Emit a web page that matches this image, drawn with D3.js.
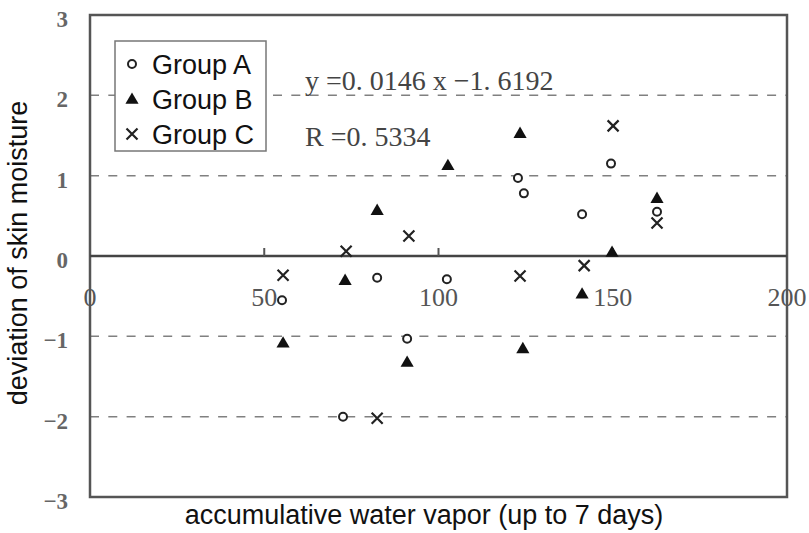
<!DOCTYPE html>
<html lang="en">
<head>
    <meta charset="UTF-8">
    <title>skin moisture</title>
    <script src="https://cdn.jsdelivr.net/npm/d3@7"></script>
    <style>
        *{
            padding: 0;
            margin: 0;
        }
        body{
            background: #fff;
        }
        svg{
            display: block;
        }
        .sans{
            font-family: "Liberation Sans", Arial, sans-serif;
            fill: #111;
        }
        .serif{
            font-family: "Liberation Serif", "DejaVu Serif", serif;
            fill: #555;
        }
    </style>
</head>
<body>
<script>
    // data
    let groupAx = [55.1, 72.6, 82.4, 91.0, 102.4, 122.8, 124.5, 141.2, 149.5, 162.7];
    let groupAy = [-0.55, -2.0, -0.27, -1.03, -0.29, 0.97, 0.78, 0.52, 1.15, 0.55];
    let groupBx = [55.4, 73.2, 82.4, 91.0, 102.7, 123.4, 124.2, 141.2, 149.8, 162.7];
    let groupBy = [-1.08, -0.30, 0.57, -1.32, 1.13, 1.53, -1.15, -0.47, 0.05, 0.72];
    let groupCx = [55.4, 73.5, 82.4, 91.5, 123.4, 141.8, 150.1, 162.7];
    let groupCy = [-0.24, 0.06, -2.02, 0.25, -0.25, -0.12, 1.62, 0.41];
    let xTicks = [0, 50, 100, 150, 200];
    let yTicks = [3, 2, 1, 0, -1, -2, -3];
    let gridLines = [2, 1, -1, -2];
    let legendNames = ["Group A", "Group B", "Group C"];

    let W = 809, H = 533;
    let pLeft = 90, pRight = 787, pTop = 15, pBottom = 497;

    let svg = d3.select("body").append("svg")
        .attr("width", W)
        .attr("height", H);

    let x = d3.scaleLinear().domain([0, 200]).range([pLeft, pRight]);
    let y = d3.scaleLinear().domain([-3, 3]).range([pBottom, pTop]);

    // dashed grid
    svg.selectAll(".grid").data(gridLines).enter().append("line")
        .attr("x1", pLeft).attr("x2", pRight)
        .attr("y1", d => y(d)).attr("y2", d => y(d))
        .attr("stroke", "#808080")
        .attr("stroke-width", 1.5)
        .attr("stroke-dasharray", "9,9.3");

    // y tick labels
    svg.selectAll(".ylab").data(yTicks).enter().append("text")
        .attr("class", "serif")
        .attr("x", 68)
        .attr("y", d => y(d) + 4)
        .attr("dy", "0.35em")
        .attr("text-anchor", "end")
        .style("font-size", "23px")
        .style("font-weight", "bold")
        .style("fill", "#666")
        .text(d => d < 0 ? "\u2212" + Math.abs(d) : d);

    // x tick labels (they sit under the zero line)
    svg.selectAll(".xlab").data(xTicks).enter().append("text")
        .attr("class", "serif")
        .attr("x", d => x(d))
        .attr("y", y(0) + 50)
        .attr("text-anchor", "middle")
        .style("font-size", "26px")
        .text(d => d);

    // frame
    svg.append("rect")
        .attr("x", pLeft).attr("y", pTop)
        .attr("width", pRight - pLeft).attr("height", pBottom - pTop)
        .attr("fill", "none")
        .attr("stroke", "#555")
        .attr("stroke-width", 2.5);

    // zero line + small ticks
    svg.append("line")
        .attr("x1", pLeft).attr("x2", pRight)
        .attr("y1", y(0)).attr("y2", y(0))
        .attr("stroke", "#444")
        .attr("stroke-width", 2.5);
    svg.selectAll(".xtick").data(xTicks.slice(1, 4)).enter().append("line")
        .attr("x1", d => x(d)).attr("x2", d => x(d))
        .attr("y1", y(0)).attr("y2", y(0) - 8)
        .attr("stroke", "#555")
        .attr("stroke-width", 2);

    // markers
    let triangle = d3.symbol().type(d3.symbolTriangle).size(75);
    function drawCircle(g, cx, cy) {
        g.append("circle")
            .attr("cx", cx).attr("cy", cy).attr("r", 4)
            .attr("fill", "#fff")
            .attr("stroke", "#222")
            .attr("stroke-width", 2);
    }
    function drawTriangle(g, cx, cy) {
        g.append("path")
            .attr("d", triangle())
            .attr("transform", "translate(" + cx + "," + (cy + 1) + ")")
            .attr("fill", "#111");
    }
    function drawCross(g, cx, cy) {
        let s = 5.5;
        g.append("path")
            .attr("d", "M" + (cx - s) + "," + (cy - s) + "L" + (cx + s) + "," + (cy + s) +
                "M" + (cx - s) + "," + (cy + s) + "L" + (cx + s) + "," + (cy - s))
            .attr("stroke", "#222")
            .attr("stroke-width", 2.2);
    }

    let pts = svg.append("g");
    groupAx.forEach((v, i) => drawCircle(pts, x(v), y(groupAy[i])));
    groupBx.forEach((v, i) => drawTriangle(pts, x(v), y(groupBy[i])));
    groupCx.forEach((v, i) => drawCross(pts, x(v), y(groupCy[i])));

    // legend
    let lg = svg.append("g");
    lg.append("rect")
        .attr("x", 115).attr("y", 41)
        .attr("width", 151).attr("height", 110)
        .attr("fill", "#fff")
        .attr("stroke", "#777")
        .attr("stroke-width", 1.5);
    let drawers = [drawCircle, drawTriangle, drawCross];
    legendNames.forEach((name, i) => {
        let cy = 64 + i * 35;
        drawers[i](lg, 132, cy);
        lg.append("text")
            .attr("class", "sans")
            .attr("x", 152)
            .attr("y", cy)
            .attr("dy", "0.36em")
            .style("font-size", "27px")
            .text(name);
    });

    // equation
    svg.append("text")
        .attr("class", "serif")
        .attr("x", 305).attr("y", 90)
        .style("font-size", "28px")
        .style("fill", "#444")
        .text("y =0. 0146 x \u22121. 6192");
    svg.append("text")
        .attr("class", "serif")
        .attr("x", 305).attr("y", 146)
        .style("font-size", "28px")
        .style("fill", "#444")
        .text("R =0. 5334");

    // axis titles
    svg.append("text")
        .attr("class", "sans")
        .attr("x", 424).attr("y", 524)
        .attr("text-anchor", "middle")
        .style("font-size", "27px")
        .text("accumulative water vapor (up to 7 days)");
    svg.append("text")
        .attr("class", "sans")
        .attr("transform", "translate(27,253) rotate(-90)")
        .attr("text-anchor", "middle")
        .style("font-size", "27px")
        .text("deviation of skin moisture");
</script>
</body>
</html>
